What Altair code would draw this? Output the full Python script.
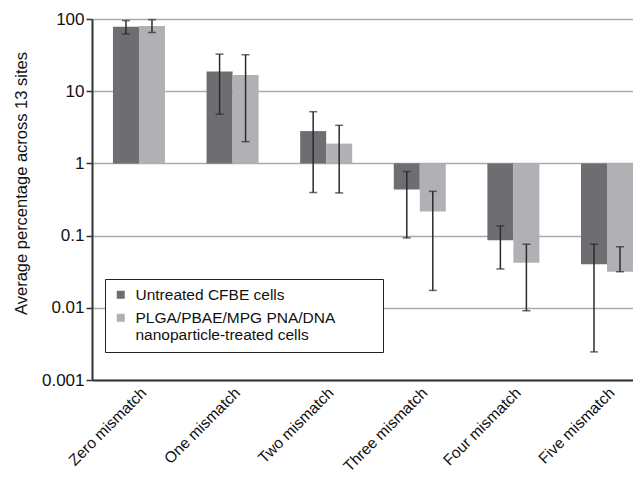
import altair as alt
import pandas as pd

categories = ["Zero mismatch", "One mismatch", "Two mismatch",
              "Three mismatch", "Four mismatch", "Five mismatch"]
series_names = ["Untreated CFBE cells",
                "PLGA/PBAE/MPG PNA/DNA|nanoparticle-treated cells"]

untreated_mean = [78, 18.8, 2.8, 0.435, 0.086, 0.040]
untreated_hi = [95, 32.6, 5.2, 0.77, 0.136, 0.076]
untreated_lo = [62, 4.8, 0.395, 0.093, 0.0345, 0.00245]

treated_mean = [80, 16.8, 1.88, 0.215, 0.042, 0.0316]
treated_hi = [98, 32, 3.37, 0.41, 0.076, 0.070]
treated_lo = [65, 2.0, 0.39, 0.0174, 0.0091, 0.0316]

y_ticks = [0.001, 0.01, 0.1, 1, 10, 100]

rows = []
for i, c in enumerate(categories):
    rows.append(dict(category=c, series=series_names[0], value=untreated_mean[i],
                     lo=untreated_lo[i], hi=untreated_hi[i], base=1.0))
    rows.append(dict(category=c, series=series_names[1], value=treated_mean[i],
                     lo=treated_lo[i], hi=treated_hi[i], base=1.0))
df = pd.DataFrame(rows)

FONT = "Liberation Sans"
PAD = "\u00a0" * 9 + "\u200b"   # widens the legend box (Vega trims plain whitespace)

x_enc = alt.X("category:N", sort=categories,
              scale=alt.Scale(paddingInner=0.4444, paddingOuter=0.112, align=1),
              axis=alt.Axis(title=None, labelAngle=-45, labelAlign="right",
                            labelBaseline="top", labelFontSize=15.5, labelPadding=5,
                            ticks=False, domainColor="#333333", domainWidth=2,
                            labelColor="#111111", labelFont=FONT))
xo_enc = alt.XOffset("series:N", sort=series_names,
                     scale=alt.Scale(paddingInner=0, paddingOuter=0))

y_axis = alt.Axis(title="Average percentage across 13 sites", values=y_ticks,
                  format="~g", grid=True, gridColor="#ababab", gridWidth=1.5,
                  domainColor="#333333", domainWidth=2, tickColor="#333333",
                  tickSize=6, tickWidth=1.5, labelFontSize=17, labelPadding=2,
                  labelColor="#111111", labelFont=FONT,
                  titleFontSize=16.5, titleFontWeight="normal", titleColor="#111111",
                  titleFont=FONT, titleX=-71, titleY=164, titleBaseline="middle")
y_scale = alt.Scale(type="log", domain=[0.001, 100], nice=False)

base = alt.Chart(df)

bars = base.mark_bar().encode(
    x=x_enc, xOffset=xo_enc,
    y=alt.Y("value:Q", scale=y_scale, axis=y_axis),
    y2="base:Q",
    color=alt.Color("series:N", sort=series_names,
                    scale=alt.Scale(domain=series_names, range=["#6d6d72", "#b1b1b5"]),
                    legend=alt.Legend(title=None, orient="none", legendX=13, legendY=260,
                                      strokeColor="#222222", fillColor="white",
                                      padding=8, labelFontSize=15.5, labelFont=FONT,
                                      labelColor="#111111",
                                      symbolType="square", symbolSize=64,
                                      symbolStrokeWidth=0, labelLimit=0,
                                      labelExpr="split(replace(datum.label, '|', '" + PAD + "|'), '|')",
                                      rowPadding=6, labelOffset=7)),
)

rules = base.mark_rule(color="#2b2b2b", strokeWidth=1.5).encode(
    x=x_enc, xOffset=xo_enc,
    y=alt.Y("lo:Q", scale=y_scale, axis=y_axis),
    y2="hi:Q",
)
cap_lo = base.mark_tick(color="#2b2b2b", thickness=1.5, size=8).encode(
    x=x_enc, xOffset=xo_enc,
    y=alt.Y("lo:Q", scale=y_scale, axis=y_axis),
)
cap_hi = base.mark_tick(color="#2b2b2b", thickness=1.5, size=8).encode(
    x=x_enc, xOffset=xo_enc,
    y=alt.Y("hi:Q", scale=y_scale, axis=y_axis),
)

chart = alt.layer(bars, rules, cap_lo, cap_hi).properties(
    width=541, height=361,
    padding={"left": 84, "top": 11, "right": 0, "bottom": 96},
    autosize=alt.AutoSizeParams(type="none"),
).configure_view(stroke=None).configure(font=FONT)

chart.save("out.html", embed_options={"renderer": "svg", "actions": False})
